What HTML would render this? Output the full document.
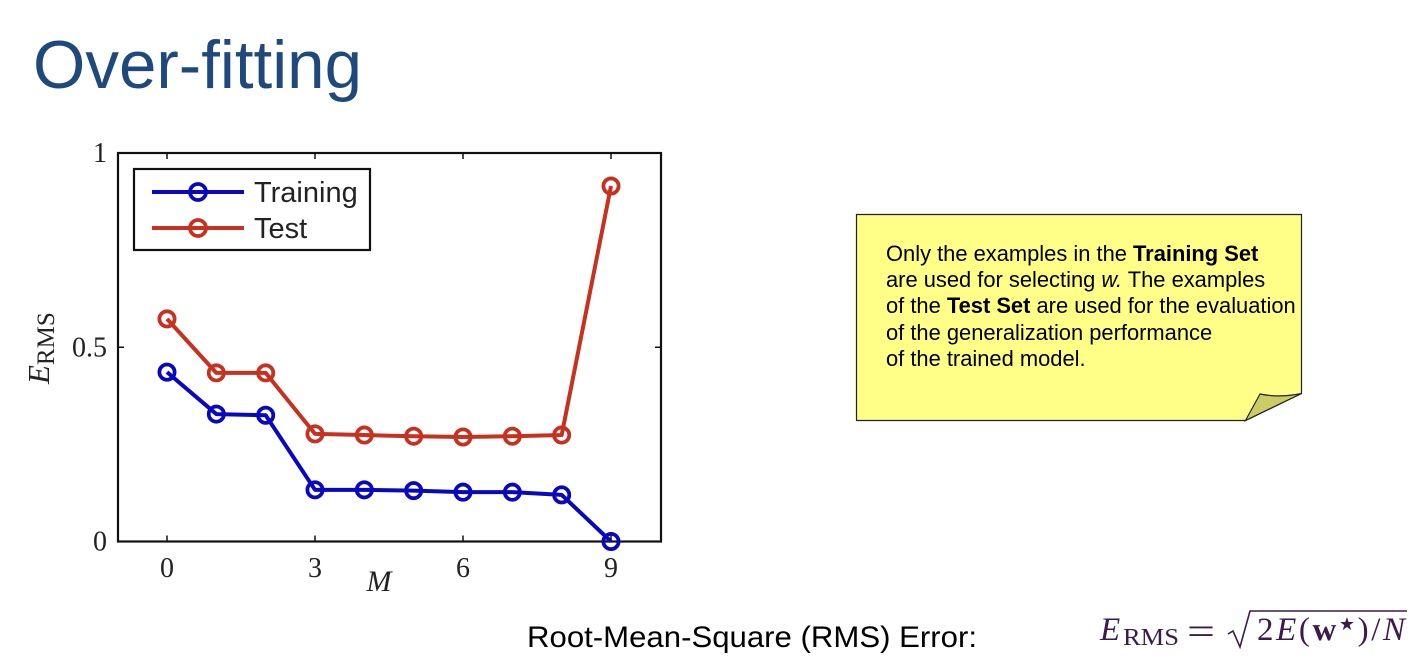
<!DOCTYPE html>
<html lang="en">
<head>
<meta charset="utf-8">
<title>Over-fitting</title>
<style>
html,body{margin:0;padding:0;background:#fff;}
body{width:1416px;height:664px;overflow:hidden;position:relative;}
svg{position:absolute;left:0;top:0;}
</style>
</head>
<body>
<svg id="s" width="1416" height="664" viewBox="0 0 1416 664" xmlns="http://www.w3.org/2000/svg">
  <text x="33" y="88" font-family="'Liberation Sans',sans-serif" font-size="68" textLength="329" lengthAdjust="spacingAndGlyphs" fill="#1f497d">Over-fitting</text>

  <g id="chart"></g>

  <g>
    <path d="M856.5 214.5H1301.5V393.5L1245.5 420.5H856.5Z" fill="#ffff88" stroke="#222" stroke-width="1.2"/>
    <path d="M1245.5 420.5L1260 394Q1280 398 1301.5 393.5Z" fill="#cccc66" stroke="#222" stroke-width="1.2"/>
    <g font-family="'Liberation Sans',sans-serif" font-size="21.9" fill="#000">
      <text x="886" y="261">Only the examples in the <tspan font-weight="bold">Training Set</tspan></text>
      <text x="886" y="287">are used for selecting <tspan font-style="italic">w.</tspan> The examples</text>
      <text x="886" y="313">of the <tspan font-weight="bold">Test Set</tspan> are used for the evaluation</text>
      <text x="886" y="340">of the generalization performance</text>
      <text x="886" y="366">of the trained model.</text>
    </g>
  </g>

  <text x="527" y="647" font-family="'Liberation Sans',sans-serif" font-size="30" textLength="450" lengthAdjust="spacingAndGlyphs" fill="#000">Root-Mean-Square (RMS) Error:</text>

  <g font-family="'Liberation Serif',serif" fill="#3c1a50">
    <text x="1100" y="640" font-size="33" font-style="italic">E</text>
    <text x="1123" y="645" font-size="24" textLength="56" lengthAdjust="spacingAndGlyphs">RMS</text>
    <text x="1187" y="644" font-size="38" textLength="28" lengthAdjust="spacingAndGlyphs">=</text>
    <path d="M1228 634L1233 631L1240 647L1250 611H1407" fill="none" stroke="#3c1a50" stroke-width="1.6"/>
    <text x="1257" y="640" font-size="33" textLength="148" lengthAdjust="spacing">2<tspan font-style="italic">E</tspan>(<tspan font-weight="bold">w</tspan><tspan font-size="18" dy="-10">★</tspan><tspan dy="10">)/</tspan><tspan font-style="italic">N</tspan></text>
  </g>
</svg>
<script>
var categories = [0, 1, 2, 3, 4, 5, 6, 7, 8, 9];
var trainingValues = [0.436, 0.328, 0.325, 0.133, 0.133, 0.131, 0.127, 0.127, 0.12, 0];
var testValues = [0.573, 0.434, 0.434, 0.277, 0.274, 0.271, 0.269, 0.271, 0.274, 0.915];
var xTickLabels = [0, 3, 6, 9];
var yTickLabels = [0, 0.5, 1];

var NS = 'http://www.w3.org/2000/svg';
var chart = document.getElementById('chart');
var left = 118, right = 661, top_ = 153, bottom = 541.5;
function xScale(v) { return 167 + v * (611 - 167) / 9; }
function yScale(v) { return bottom - v * (bottom - top_); }
function make(tag, attrs, parent) {
  var el = document.createElementNS(NS, tag);
  for (var k in attrs) el.setAttribute(k, attrs[k]);
  (parent || chart).appendChild(el);
  return el;
}

var frame = make('rect', {x: left, y: top_, width: right - left, height: bottom - top_, fill: '#fff', stroke: '#111', 'stroke-width': 2.2});



xTickLabels.forEach(function (t) {
  var x = xScale(t);
  var tickB = make('line', {x1: x, x2: x, y1: bottom, y2: bottom - 6, stroke: '#111', 'stroke-width': 1.5});
  
  
  var tickT = make('line', {x1: x, x2: x, y1: top_, y2: top_ + 6, stroke: '#111', 'stroke-width': 1.5});
  
  
  var lab = make('text', {x: x, y: 577, 'text-anchor': 'middle', 'font-family': "'Liberation Serif',serif", 'font-size': 28, fill: '#222'});
  
  
  lab.textContent = t;
});
yTickLabels.forEach(function (t) {
  var y = yScale(t);
  var tickL = make('line', {x1: left, x2: left + 6, y1: y, y2: y, stroke: '#111', 'stroke-width': 1.5});
  
  
  var tickR = make('line', {x1: right, x2: right - 6, y1: y, y2: y, stroke: '#111', 'stroke-width': 1.5});
  
  
  var lab = make('text', {x: 107, y: y + 9, 'text-anchor': 'end', 'font-family': "'Liberation Serif',serif", 'font-size': 28, fill: '#222'});
  
  
  lab.textContent = t;
});

var xTitle = make('text', {x: 379, y: 591, 'text-anchor': 'middle', 'font-family': "'Liberation Serif',serif", 'font-size': 30, 'font-style': 'italic', fill: '#222'});


xTitle.textContent = 'M';

var yTitle = make('text', {transform: 'translate(49 384) rotate(-90)', 'font-family': "'Liberation Serif',serif", 'font-size': 31, fill: '#222'});


var e = make('tspan', {'font-style': 'italic'}, yTitle);
e.textContent = 'E';
var sub = make('tspan', {'font-size': 25, dy: 5}, yTitle);
sub.textContent = 'RMS';

function drawSeries(values, color, name) {
  var g = make('g', {});
  
  
  var pts = values.map(function (v, i) { return xScale(categories[i]) + ',' + yScale(v); }).join(' ');
  var line = make('polyline', {points: pts, fill: 'none', stroke: color, 'stroke-width': 4, 'stroke-linejoin': 'round'}, g);
  
  
  values.forEach(function (v, i) {
    var c = make('circle', {cx: xScale(categories[i]), cy: yScale(v), r: 7.6, fill: 'none', stroke: color, 'stroke-width': 3.8}, g);
    
    
  });
}
drawSeries(testValues, '#c8301f', 'test');
drawSeries(trainingValues, '#0808c0', 'training');

var legend = make('g', {});


var box = make('rect', {x: 134, y: 169, width: 236, height: 81, fill: '#fff', stroke: '#111', 'stroke-width': 2.2}, legend);


[['Training', '#0808c0', 192, 'training'], ['Test', '#c8301f', 228, 'test']].forEach(function (r) {
  var g = make('g', {}, legend);
  
  
  var l = make('line', {x1: 152, x2: 244, y1: r[2], y2: r[2], stroke: r[1], 'stroke-width': 4}, g);
  
  
  var c = make('circle', {cx: 198, cy: r[2], r: 8, fill: 'none', stroke: r[1], 'stroke-width': 3.8}, g);
  
  
  var t = make('text', {x: 254, y: r[2] + 10, 'font-family': "'Liberation Sans',sans-serif", 'font-size': 29, fill: '#222'}, g);
  
  
  t.textContent = r[0];
});
</script>
</body>
</html>
